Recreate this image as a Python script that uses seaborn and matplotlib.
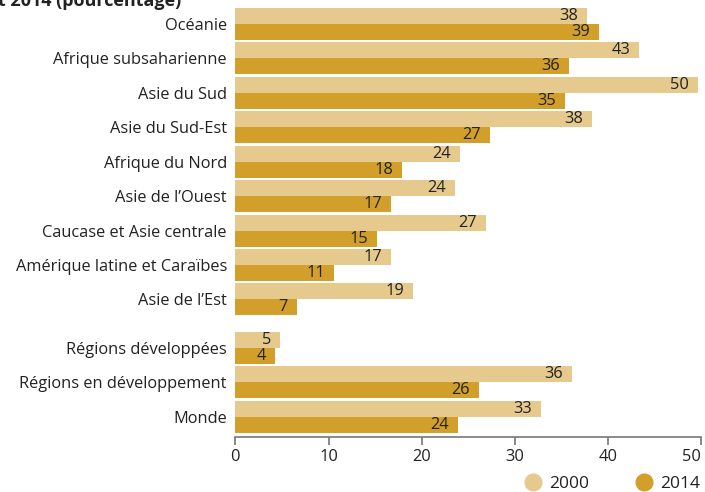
import numpy as np
import pandas as pd
import seaborn as sns
import matplotlib
matplotlib.use("Agg")
import matplotlib.pyplot as plt
from matplotlib.lines import Line2D

regions = ["Océanie", "Afrique subsaharienne", "Asie du Sud", "Asie du Sud-Est",
           "Afrique du Nord", "Asie de l’Ouest", "Caucase et Asie centrale",
           "Amérique latine et Caraïbes", "Asie de l’Est",
           "Régions développées", "Régions en développement", "Monde"]
v2000 = [37.7, 43.3, 49.6, 38.3, 24.1, 23.6, 26.9, 16.7, 19.1, 4.8, 36.1, 32.8]
v2014 = [39.0, 35.8, 35.4, 27.3, 17.9, 16.7, 15.2, 10.6, 6.6, 4.3, 26.1, 23.9]
years = ["2000", "2014"]
xticks = [0, 10, 20, 30, 40, 50]

# layout: row positions (extra gap before the aggregate groups)
ypos = [0, 1, 2, 3, 4, 5, 6, 7, 8, 9.41, 10.41, 11.41]

c2000 = "#E5C98D"
c2014 = "#D19F2A"

sns.set_theme(style="white")
plt.rcParams["font.family"] = ["Open Sans", "DejaVu Sans"]

rows = []
for r, p, a, b in zip(regions, ypos, v2000, v2014):
    rows.append({"region": r, "pos": p, "year": years[0], "value": a})
    rows.append({"region": r, "pos": p, "year": years[1], "value": b})
df = pd.DataFrame(rows)

fig = plt.figure(figsize=(7.05, 4.92), dpi=100)
ax = fig.add_axes([0.3338, 0.1124, 0.9948 - 0.3338, 0.9837 - 0.1124])

sns.barplot(data=df, x="value", y="pos", hue="year", orient="h",
            native_scale=True, palette=[c2000, c2014], width=0.93,
            saturation=1, legend=False, ax=ax, errorbar=None, linewidth=0)

ax.set_ylim(11.99, -0.465)
ax.set_xlim(0, 50)
ax.set_yticks(ypos)
ax.set_yticklabels(regions, fontsize=11.8, color="#222222")
ax.set_xticks(xticks)
ax.set_xticklabels([str(t) for t in xticks], fontsize=11.8, color="#222222")
ax.get_xticklabels()[-1].set_horizontalalignment("right")
ax.set_xlabel("")
ax.set_ylabel("")
for s in ["top", "right", "left"]:
    ax.spines[s].set_visible(False)
ax.spines["bottom"].set_color("#777777")
ax.spines["bottom"].set_linewidth(1.2)
ax.tick_params(axis="x", which="both", bottom=True, length=6, width=1.2,
               color="#777777", pad=3)
ax.tick_params(axis="y", left=False, pad=0)

for cont in ax.containers:
    for bar in cont:
        w = bar.get_width()
        lab = str(int(np.floor(w + 0.5)))
        ax.text(w - 0.95, bar.get_y() + bar.get_height() / 2, lab,
                ha="right", va="center", fontsize=11.8, color="#222222")

fig.text(-0.003, 1 - 6 / 492, "t 2014 (pourcentage)", ha="left", va="baseline",
         fontsize=13, fontweight="bold", color="#222222")

handles = [Line2D([], [], marker="o", linestyle="none", markersize=12,
                  markerfacecolor=c, markeredgecolor=c) for c in (c2000, c2014)]
fig.legend(handles, years, loc="center right", bbox_to_anchor=(0.993, 1 - 484 / 492),
           ncol=2, frameon=False, fontsize=12.5, handletextpad=0.4,
           handlelength=1.0, columnspacing=2.7, borderaxespad=0, borderpad=0,
           labelcolor="#222222")

fig.savefig("out.png", dpi=100)
